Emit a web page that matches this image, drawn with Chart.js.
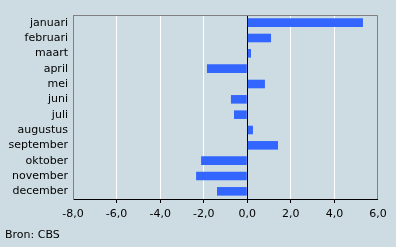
<!DOCTYPE html>
<html>
<head>
<meta charset="utf-8">
<script src="https://cdn.jsdelivr.net/npm/chart.js@4"></script>
<style>
html,body{margin:0;padding:0;background:#cddce2;}
#wrap{width:396px;height:247px;position:relative;}
</style>
</head>
<body>
<div id="wrap"><canvas id="c" width="396" height="247"></canvas></div>
<script>
const categories = ["januari","februari","maart","april","mei","juni","juli","augustus","september","oktober","november","december"];
const values = [5.31, 1.09, 0.17, -1.85, 0.81, -0.75, -0.61, 0.26, 1.41, -2.12, -2.35, -1.39];
const xTicks = [-8, -6, -4, -2, 0, 2, 4, 6];
const sourceText = "Bron: CBS";

const FONT = "'DejaVu Sans', Verdana, sans-serif";

const framePlugin = {
  id: 'frame',
  afterDraw(chart) {
    const {ctx, chartArea: a} = chart;
    ctx.save();
    ctx.strokeStyle = '#808080';
    ctx.lineWidth = 1;
    ctx.beginPath();
    ctx.moveTo(a.left + 0.5, a.bottom);
    ctx.lineTo(a.left + 0.5, a.top + 0.5);
    ctx.lineTo(a.right - 0.5, a.top + 0.5);
    ctx.lineTo(a.right - 0.5, a.bottom);
    ctx.stroke();
    ctx.fillStyle = '#000';
    ctx.font = "11px " + FONT;
    ctx.textBaseline = 'middle';
    ctx.textAlign = 'left';
    ctx.fillText(sourceText, 5, 235);
    ctx.restore();
  }
};

new Chart(document.getElementById('c'), {
  type: 'bar',
  data: {
    labels: categories,
    datasets: [{
      data: values,
      backgroundColor: '#3366ff',
      borderWidth: 0,
      categoryPercentage: 1,
      barPercentage: 0.56
    }]
  },
  options: {
    indexAxis: 'y',
    responsive: false,
    animation: false,
    layout: {padding: {left: 0, right: 18, top: 15, bottom: 0}},
    plugins: {legend: {display: false}, tooltip: {enabled: false}},
    scales: {
      x: {
        min: -8, max: 6,
        afterBuildTicks(scale) { scale.ticks = xTicks.map(v => ({value: v})); },
        afterFit(scale) { scale.height = 48; },
        ticks: {
          color: '#000',
          font: {family: FONT, size: 11},
          padding: 5,
          maxRotation: 0,
          autoSkip: false,
          callback: v => v.toFixed(1).replace('.', ',')
        },
        grid: {
          color: ctx => ctx.tick && ctx.tick.value === 0 ? '#000' : '#ffffff',
          lineWidth: ctx => ctx.tick && (ctx.tick.value === -8 || ctx.tick.value === 6) ? 0 : 1,
          tickColor: '#000',
          tickLength: 4,
          drawTicks: true,
          z: 0
        },
        border: {display: true, color: '#000', width: 1}
      },
      y: {
        afterFit(scale) { scale.width = 73; },
        ticks: {
          color: '#000',
          font: {family: FONT, size: 11},
          padding: 5,
          autoSkip: false
        },
        grid: {display: false, drawTicks: false},
        border: {display: true, color: '#808080', width: 1}
      }
    }
  },
  plugins: [framePlugin]
});
</script>
</body>
</html>
